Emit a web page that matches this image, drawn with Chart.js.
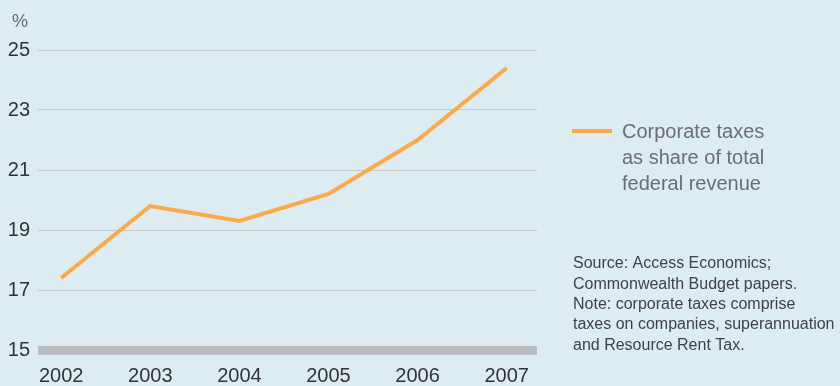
<!DOCTYPE html>
<html>
<head>
<meta charset="utf-8">
<script src="https://cdn.jsdelivr.net/npm/chart.js@4/dist/chart.umd.min.js"></script>
<style>
  html, body { margin: 0; padding: 0; background: #ddecf1; }
  #wrap { width: 840px; height: 386px; position: relative; }
</style>
</head>
<body>
<div id="wrap"><canvas id="taxChart" width="840" height="386"></canvas></div>
<script>
// corporate taxes as % of federal revenue
const years = [2002, 2003, 2004, 2005, 2006, 2007];
const corpShare = [17.4, 19.8, 19.3, 20.2, 22.0, 24.4];
const yTicks = [15, 17, 19, 21, 23, 25];

const legendLines = ['Corporate taxes', 'as share of total', 'federal revenue'];
const noteLines = [
    'Source: Access Economics;',
    'Commonwealth Budget papers.',
    'Note: corporate taxes comprise',
    'taxes on companies, superannuation',
    'and Resource Rent Tax.'
];

const lineColor = '#f9aa4a';
const fontFamily = '"Liberation Sans", Arial, Helvetica, sans-serif';

// draws the % unit, the legend and the notes on the right
const sidePanel = {
    id: 'sidePanel',
    afterDraw(chart) {
        const ctx = chart.ctx;
        ctx.save();
        ctx.textBaseline = 'middle';
        ctx.textAlign = 'left';

        ctx.fillStyle = '#6b6b6b';
        ctx.font = '18px ' + fontFamily;
        ctx.fillText('%', 12, 22);

        ctx.strokeStyle = lineColor;
        ctx.lineWidth = 4;
        ctx.beginPath();
        ctx.moveTo(572, 131);
        ctx.lineTo(612, 131);
        ctx.stroke();

        ctx.fillStyle = '#6d6d6d';
        ctx.font = '20px ' + fontFamily;
        legendLines.forEach((t, i) => ctx.fillText(t, 622, 132 + i * 26));

        ctx.fillStyle = '#424242';
        ctx.font = '16px ' + fontFamily;
        noteLines.forEach((t, i) => ctx.fillText(t, 573, 264 + i * 20.3));
        ctx.restore();
    }
};

new Chart('taxChart', {
    type: 'line',
    data: {
        datasets: [{
            data: years.map((y, i) => ({ x: y, y: corpShare[i] })),
            borderColor: lineColor,
            borderWidth: 4,
            pointRadius: 0,
            tension: 0
        }]
    },
    options: {
        responsive: false,
        animation: false,
        layout: { padding: { left: 8, right: 303, top: 50, bottom: 0 } },
        plugins: {
            legend: { display: false },
            tooltip: { enabled: false }
        },
        scales: {
            x: {
                type: 'linear',
                min: 2001.74,
                max: 2007.34,
                afterBuildTicks: (axis) => { axis.ticks = years.map(v => ({ value: v })); },
                afterFit: (axis) => { axis.height = 36; },
                grid: { display: false, drawTicks: false },
                border: { display: false },
                ticks: {
                    color: '#333333',
                    font: { family: fontFamily, size: 20, lineHeight: 1 },
                    padding: 16,
                    maxRotation: 0,
                    callback: (v) => String(v)
                }
            },
            y: {
                min: 15,
                max: 25,
                afterBuildTicks: (axis) => { axis.ticks = yTicks.map(v => ({ value: v })); },
                afterFit: (axis) => { axis.width = 30; },
                border: { display: false },
                grid: {
                    drawTicks: false,
                    color: (c) => c.tick && c.tick.value === 15 ? '#bbbcc0' : '#c9c9cb',
                    lineWidth: (c) => c.tick && c.tick.value === 15 ? 9 : 1
                },
                ticks: {
                    color: '#333333',
                    font: { family: fontFamily, size: 20 },
                    padding: 8
                }
            }
        }
    },
    plugins: [sidePanel]
});
</script>
</body>
</html>
